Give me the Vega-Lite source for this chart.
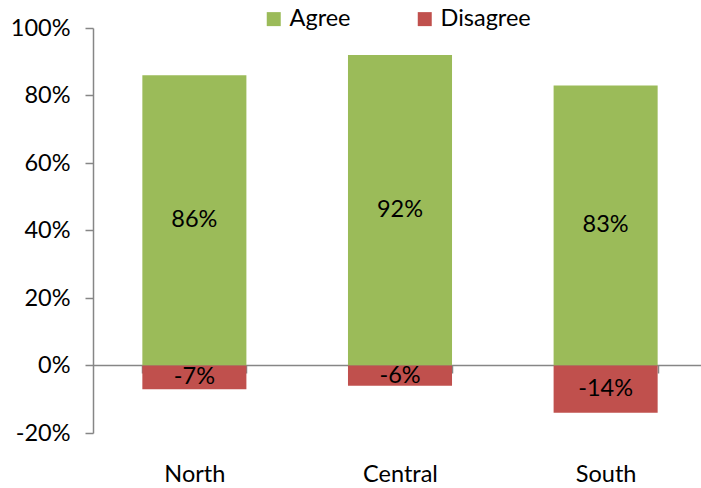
{
  "$schema": "https://vega.github.io/schema/vega-lite/v6.json",
  "width": 607,
  "height": 405,
  "autosize": {"type": "none"},
  "padding": {"left": 93, "top": 28, "right": 1, "bottom": 55},
  "background": "white",
  "config": {
    "font": "Lato",
    "locale": {"number": {"decimal": ".", "thousands": ",", "grouping": [3], "currency": ["$", ""], "minus": "-"}},
    "view": {"stroke": null},
    "axis": {"grid": false, "domainColor": "#868686", "tickColor": "#868686", "labelColor": "#000000", "labelFontSize": 23.5, "labelFont": "Lato", "title": null, "domainWidth": 1.5, "tickWidth": 1.5}
  },
  "data": {
    "values": [
      {"region": "North", "response": "Agree", "value": 0.86},
      {"region": "North", "response": "Disagree", "value": -0.07},
      {"region": "Central", "response": "Agree", "value": 0.92},
      {"region": "Central", "response": "Disagree", "value": -0.06},
      {"region": "South", "response": "Agree", "value": 0.83},
      {"region": "South", "response": "Disagree", "value": -0.14}
    ]
  },
  "layer": [
    {
      "mark": {"type": "bar"},
      "encoding": {
        "x": {"field": "region", "type": "nominal", "sort": ["North", "Central", "South"],
          "scale": {"range": [0, 614], "paddingInner": 0.494, "paddingOuter": 0.24},
          "axis": {"labelAngle": 0, "offset": -68, "tickBand": "extent", "tickSize": 8, "labelPadding": 89}},
        "y": {"field": "value", "type": "quantitative", "stack": null,
          "scale": {"domain": [-0.2, 1], "nice": false},
          "axis": {"values": [-0.2, 0, 0.2, 0.4, 0.6, 0.8, 1], "format": ".0%", "tickSize": 8, "labelPadding": 15}},
        "color": {"field": "response", "type": "nominal",
          "scale": {"domain": ["Agree", "Disagree"], "range": ["#9BBB59", "#C0504D"]},
          "legend": {"orient": "none", "legendX": 169, "legendY": -21, "direction": "horizontal", "title": null,
            "symbolType": "square", "symbolSize": 196, "symbolStrokeWidth": 0, "labelFontSize": 23.5, "labelFont": "Lato",
            "labelColor": "#000000", "labelOffset": 4, "columnPadding": 62}}
      }
    },
    {
      "transform": [{"calculate": "datum.value / 2", "as": "mid"}],
      "mark": {"type": "text", "fontSize": 23.5, "baseline": "middle", "align": "center", "color": "#000000", "font": "Lato"},
      "encoding": {
        "x": {"field": "region", "type": "nominal", "sort": ["North", "Central", "South"]},
        "y": {"field": "mid", "type": "quantitative"},
        "text": {"field": "value", "type": "quantitative", "format": ".0%"}
      }
    }
  ]
}
